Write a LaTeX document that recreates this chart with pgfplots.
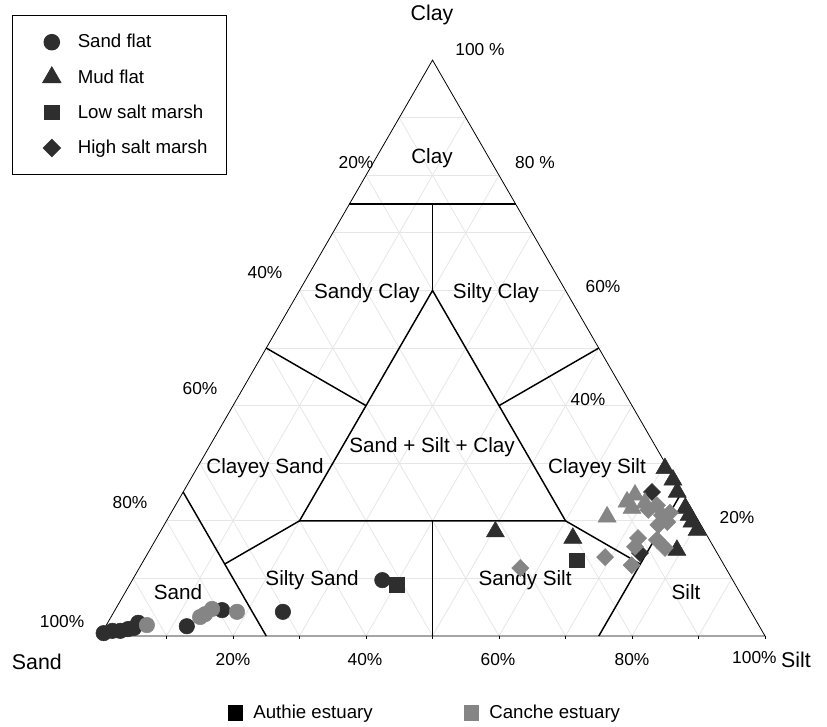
\documentclass[border=0pt]{standalone}
\usepackage{pgfplots}
\pgfplotsset{compat=1.18}
\usepackage{pgfplotstable}
\usepackage{fontspec}
\setmainfont{Liberation Sans}
\definecolor{authie}{HTML}{2E2E2E}
\definecolor{canche}{HTML}{858585}
\definecolor{gridc}{HTML}{E6E6E6}

% columns: sand silt clay (percent)
\pgfplotstableread{
sand silt clay
99.2 0.3 0.5
97.7 1.4 0.9
96.5 2.6 0.9
95.2 3.6 1.2
94.2 4.4 1.4
93.1 4.6 2.3
86.1 12.2 1.7
79.4 16.1 4.5
70.4 25.4 4.2
52.7 37.6 9.7
}\authiecircle
\pgfplotstableread{
sand silt clay
92.0 6.1 1.9
83.3 13.4 3.3
82.3 13.9 3.8
80.8 14.5 4.7
77.3 18.5 4.2
}\canchecircle
\pgfplotstableread{
sand silt clay
31.5 50.4 18.1
20.4 62.6 17.0
5.8 79.3 14.9
0.5 70.4 29.1
0.3 72.6 27.1
0.7 74.3 25.0
0.9 76.9 22.2
0.9 78.1 21.0
1.1 79.1 19.8
1.0 80.6 18.4
}\authietri
\pgfplotstableread{
sand silt clay
13.4 65.9 20.7
9.1 67.6 23.3
7.3 68.2 24.5
8.9 68.9 22.2
6.5 70.4 23.1
}\canchetri
\pgfplotstableread{
sand silt clay
50.9 40.2 8.9
21.7 65.1 13.2
}\authiesq
\pgfplotstableread{
sand silt clay
4.5 70.5 25.0
11.6 74.0 14.4
}\authiedia
\pgfplotstableread{
sand silt clay
30.9 57.3 11.8
4.9 72.4 22.7
6.6 71.5 21.9
5.0 74.0 21.0
3.6 75.0 21.4
4.8 75.4 19.8
6.4 74.3 19.3
10.6 72.4 17.0
11.8 72.7 15.5
7.9 75.4 16.7
7.4 77.3 15.3
17.2 69.1 13.7
13.9 73.8 12.3
}\canchedia

\pgfplotsset{
  /pgfplots/table/tern/.style={x expr=\thisrow{silt}+0.5*\thisrow{clay}, y expr=0.8660254*\thisrow{clay}},
}
\tikzset{
  lbl/.style={font=\fontsize{13}{15}\selectfont, inner sep=0pt},
  reg/.style={font=\fontsize{15.5}{18}\selectfont, inner sep=0pt},
  ttl/.style={font=\fontsize{16}{19}\selectfont, inner sep=0pt},
}

\begin{document}
\begin{tikzpicture}
\begin{axis}[
  scale only axis, width=620.25pt, height=545.25pt,
  xmin=-15.04, xmax=109.32, ymin=-13.68, ymax=95.64,
  hide axis, clip=false,
  legend style={at={(0.0145,0.979)}, anchor=north west, draw=black, line width=0.8pt,
    font=\fontsize{14}{16}\selectfont, row sep=10.8pt, inner xsep=12pt, inner ysep=12pt},
  legend cell align=left,
  legend image code/.code={\path (-0.6cm,0) (0.6cm,0); \draw[#1] plot coordinates {(0cm,0cm)};},
]
\path (rel axis cs:0,0) rectangle (rel axis cs:1,1);
% grid every 10 %
\begin{scope}[gridc, line width=0.6pt]
\draw (5,8.66) -- (95,8.66);
\draw (10,17.32) -- (90,17.32);
\draw (15,25.98) -- (85,25.98);
\draw (20,34.64) -- (80,34.64);
\draw (25,43.30) -- (75,43.30);
\draw (30,51.96) -- (70,51.96);
\draw (35,60.62) -- (65,60.62);
\draw (40,69.28) -- (60,69.28);
\draw (45,77.94) -- (55,77.94);
\draw (10,0) -- (55,77.94);
\draw (20,0) -- (60,69.28);
\draw (30,0) -- (65,60.62);
\draw (40,0) -- (70,51.96);
\draw (50,0) -- (75,43.30);
\draw (60,0) -- (80,34.64);
\draw (70,0) -- (85,25.98);
\draw (80,0) -- (90,17.32);
\draw (90,0) -- (95,8.66);
\draw (10,0) -- (5,8.66);
\draw (20,0) -- (10,17.32);
\draw (30,0) -- (15,25.98);
\draw (40,0) -- (20,34.64);
\draw (50,0) -- (25,43.30);
\draw (60,0) -- (30,51.96);
\draw (70,0) -- (35,60.62);
\draw (80,0) -- (40,69.28);
\draw (90,0) -- (45,77.94);
\end{scope}
% outer triangle
\draw[black, line width=0.6pt] (0,0) -- (100,0) -- (50,86.60) -- cycle;
\draw[black, line width=0.5pt] (0,0) -- (0,-0.5) (10,0) -- (10,-0.5) (20,0) -- (20,-0.5) (30,0) -- (30,-0.5) (40,0) -- (40,-0.5) (50,0) -- (50,-0.5) (60,0) -- (60,-0.5) (70,0) -- (70,-0.5) (80,0) -- (80,-0.5) (90,0) -- (90,-0.5) (100,0) -- (100,-0.5);
% class boundaries
\begin{scope}[black, line width=1.1pt]
\draw (37.5,64.95) -- (62.5,64.95);
\draw (50,64.95) -- (50,51.96);
\draw (30,17.32) -- (70,17.32) -- (50,51.96) -- cycle;
\draw (25,43.30) -- (40,34.64);
\draw (75,43.30) -- (60,34.64);
\draw (12.5,21.65) -- (25,0);
\draw (18.75,10.825) -- (30,17.32);
\draw (50,17.32) -- (50,0);
\draw (75,0) -- (87.5,21.65);
\draw (81.25,10.825) -- (70,17.32);
\end{scope}
% labels
\node[ttl] at (49.92,93.38) {Clay};
\node[ttl] at (-9.5,-3.9) {Sand};
\node[ttl] at (104.66,-3.6) {Silt};
\node[lbl] at (57.14,88.12) {100 \%};
\node[lbl] at (65.41,71.13) {80 \%};
\node[lbl] at (75.64,52.48) {60\%};
\node[lbl] at (73.38,35.49) {40\%};
\node[lbl] at (95.79,17.89) {20\%};
\node[lbl] at (38.50,71.13) {20\%};
\node[lbl] at (24.81,54.59) {40\%};
\node[lbl] at (15.04,37.29) {60\%};
\node[lbl] at (4.51,20.0) {80\%};
\node[lbl] at (-5.71,2.11) {100\%};
\node[lbl] at (20.0,-3.61) {20\%};
\node[lbl] at (39.85,-3.61) {40\%};
\node[lbl] at (59.85,-3.61) {60\%};
\node[lbl] at (80.0,-3.61) {80\%};
\node[lbl] at (98.4,-3.16) {100\%};
\node[reg] at (49.92,71.88) {Clay};
\node[reg] at (40.15,51.58) {Sandy Clay};
\node[reg] at (59.55,51.58) {Silty Clay};
\node[reg] at (49.92,28.42) {Sand + Silt + Clay};
\node[reg] at (24.81,25.26) {Clayey Sand};
\node[reg] at (74.74,25.26) {Clayey Silt};
\node[reg] at (11.73,6.62) {Sand};
\node[reg] at (31.88,8.42) {Silty Sand};
\node[reg] at (63.91,8.42) {Sandy Silt};
\node[reg] at (88.12,6.62) {Silt};
% data
\addplot[only marks, mark=*, mark size=5.8pt, authie, mark options={draw=authie, fill=authie}] table[tern] {\authiecircle};
\addlegendentry{Sand flat}
\addplot[only marks, mark=triangle*, mark size=7.8pt, authie, mark options={draw=authie, fill=authie}] table[tern] {\authietri};
\addlegendentry{Mud flat}
\addplot[only marks, mark=square*, mark size=5.4pt, authie, mark options={draw=authie, fill=authie}] table[tern] {\authiesq};
\addlegendentry{Low salt marsh}
\addplot[only marks, mark=diamond*, mark size=6.4pt, authie, mark options={draw=authie, fill=authie, xscale=1.33}] table[tern] {\authiedia};
\addlegendentry{High salt marsh}
\addplot[only marks, mark=*, mark size=5.8pt, canche, mark options={draw=canche, fill=canche}, forget plot] table[tern] {\canchecircle};
\addplot[only marks, mark=triangle*, mark size=7.8pt, canche, mark options={draw=canche, fill=canche}, forget plot] table[tern] {\canchetri};
\addplot[only marks, mark=diamond*, mark size=6.4pt, canche, mark options={draw=canche, fill=canche, xscale=1.33}, forget plot] table[tern] {\canchedia};
\end{axis}
\begin{axis}[
  scale only axis, width=620.25pt, height=545.25pt,
  xmin=0, xmax=1, ymin=0, ymax=1, hide axis,
  legend style={at={(0.514,0.019)}, anchor=center, draw=none, fill=none,
    font=\fontsize{14}{16}\selectfont, legend columns=2,
    /tikz/every even column/.append style={column sep=66pt}},
  legend cell align=left,
  legend image code/.code={\path (-0.2cm,0) (0.4cm,0); \draw[#1] plot coordinates {(0cm,0cm)};},
]
\addlegendimage{only marks, mark=square*, mark size=5.6pt, black}
\addlegendentry{Authie estuary}
\addlegendimage{only marks, mark=square*, mark size=5.6pt, canche}
\addlegendentry{Canche estuary}
\end{axis}
\end{tikzpicture}
\end{document}
